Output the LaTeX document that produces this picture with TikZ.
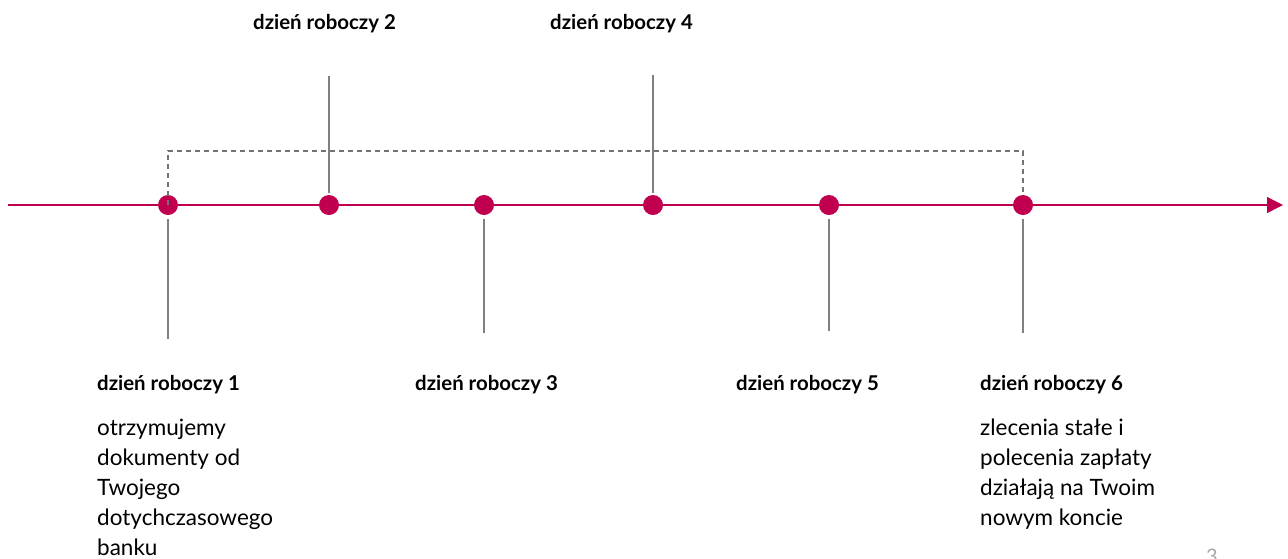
\documentclass[tikz,border=0pt]{standalone}
\usepackage{fontspec}
\setmainfont{Lato}
\usetikzlibrary{arrows.meta}
\definecolor{crim}{HTML}{C0004E}
\definecolor{lgray}{HTML}{808080}
\tikzset{
  dot/.style={circle,fill=crim,minimum size=20pt,inner sep=0pt,outer sep=0pt},
  axis/.style={draw=crim,line width=1.4pt,-{Triangle[length=16pt,width=16pt]}},
  tick/.style={draw=lgray,line width=1.2pt},
  span/.style={draw=lgray!90!black,line width=1.1pt,dash pattern=on 5pt off 4pt},
  daylbl/.style={anchor=base west,inner sep=0pt,font=\fontsize{20.4}{24}\selectfont\bfseries},
  desc/.style={anchor=base west,inner sep=0pt,align=left,font=\fontsize{22.5}{30}\selectfont},
}
\begin{document}
\begin{tikzpicture}[x=1pt,y=-1pt]
\useasboundingbox (0,0) rectangle (1288,558);
% axis
\coordinate (a0) at (8,205);
\coordinate (a1) at (1283,205);
\draw[axis] (a0) -- (a1);
% dots
\node[dot] (d1) at (168,205) {};
\node[dot] (d2) at (329,205) {};
\node[dot] (d3) at (484,205) {};
\node[dot] (d4) at (653,205) {};
\node[dot] (d5) at (829,205) {};
\node[dot] (d6) at (1023,205) {};
% tick ends
\coordinate (t1) at (168,339);
\coordinate (t2) at (329,76);
\coordinate (t3) at (484,333);
\coordinate (t4) at (653,75);
\coordinate (t5) at (829,331);
\coordinate (t6) at (1023,333);
\draw[tick,shorten <=4pt] (d1.south) -- (t1);
\draw[tick,shorten <=2pt] (d2.north) -- (t2);
\draw[tick,shorten <=4pt] (d3.south) -- (t3);
\draw[tick,shorten <=2pt] (d4.north) -- (t4);
\draw[tick,shorten <=4pt] (d5.south) -- (t5);
\draw[tick,shorten <=4pt] (d6.south) -- (t6);
% dashed span
\draw[span] (d1.center) -- (168,151) -- (1023,151) -- (d6.north);
% labels
\node[daylbl] (l2) at (253,29) {dzień roboczy 2};
\node[daylbl] (l4) at (550,29) {dzień roboczy 4};
\node[daylbl] (l1) at (97,390) {dzień roboczy 1};
\node[daylbl] (l3) at (415,390) {dzień roboczy 3};
\node[daylbl] (l5) at (736,390) {dzień roboczy 5};
\node[daylbl] (l6) at (980,390) {dzień roboczy 6};
\node[desc] (x1) at (97,555) {otrzymujemy\\dokumenty od\\Twojego\\dotychczasowego\\banku};
\node[desc] (x6) at (980,525) {zlecenia stałe i\\polecenia zapłaty\\działają na Twoim\\nowym koncie};
\node[anchor=base west,inner sep=0pt,text=lgray!70,font=\fontsize{20}{24}\selectfont] (pg) at (1206,563) {3};
\end{tikzpicture}
\end{document}
